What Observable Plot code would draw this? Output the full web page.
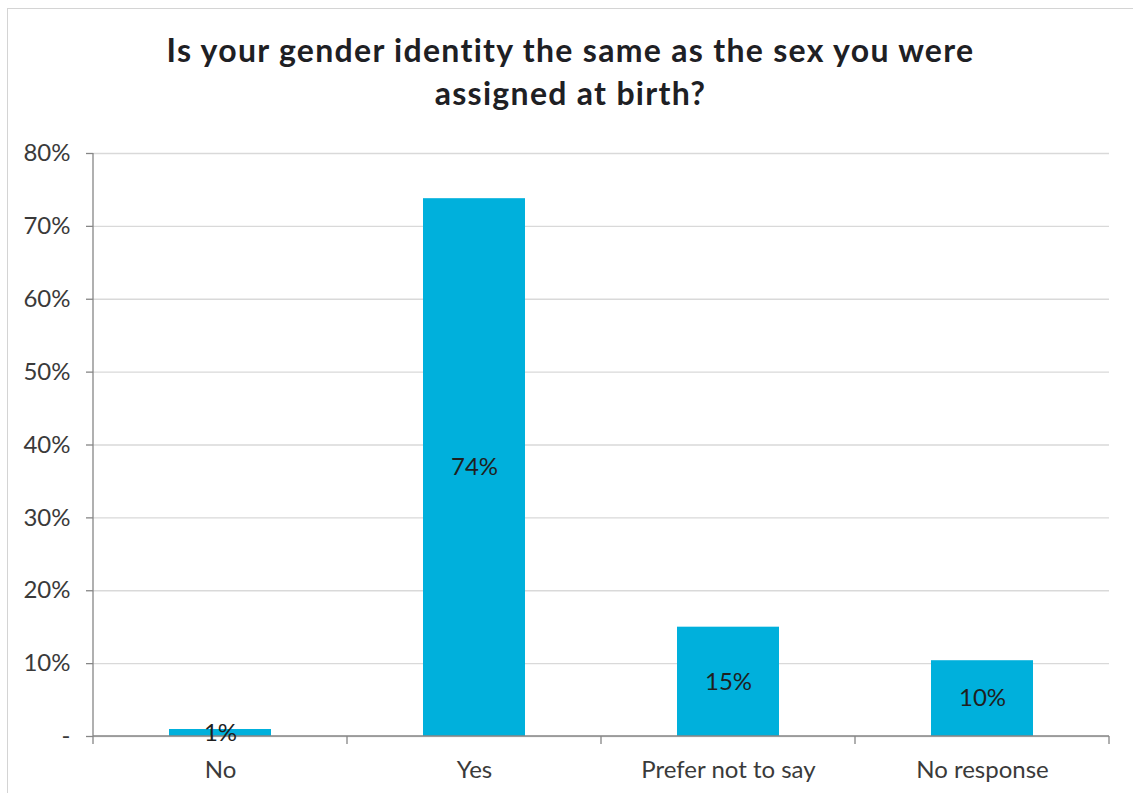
<!DOCTYPE html>
<html>
<head>
<meta charset="utf-8">
<script src="https://cdn.jsdelivr.net/npm/d3@7"></script>
<script src="https://cdn.jsdelivr.net/npm/@observablehq/plot@0.6"></script>
<style>
  html, body { margin: 0; padding: 0; background: #fff; }
  #wrap { position: relative; width: 1133px; height: 793px; overflow: hidden; font-family: Lato, "Open Sans", sans-serif; }
  #border { position: absolute; left: 7px; top: 8px; width: 1200px; height: 900px; border-left: 1px solid #d4d4d4; border-top: 1px solid #d4d4d4; box-sizing: border-box; }
  #title { position: absolute; left: 7px; top: 28px; width: 1127px; text-align: center; font-weight: 700; font-size: 32px; letter-spacing: 1.3px; line-height: 43px; color: #1e2024; }
  #chart { position: absolute; left: 0; top: 125px; }
</style>
</head>
<body>
<div id="wrap">
  <div id="border"></div>
  <div id="title">Is your gender identity the same as the sex you were<br>assigned at birth?</div>
  <div id="chart"></div>
</div>
<script>
const categories = ["No", "Yes", "Prefer not to say", "No response"];
const values = [0.96, 73.8, 15.0, 10.4];
const valueLabels = ["1%", "74%", "15%", "10%"];
const yTicks = [0, 10, 20, 30, 40, 50, 60, 70, 80];
const yTickLabels = ["-", "10%", "20%", "30%", "40%", "50%", "60%", "70%", "80%"];

const data = categories.map((c, i) => ({category: c, value: values[i], label: valueLabels[i]}));

const barColor = "rgb(0,176,220)";
const axisColor = "#868686";

// axis line on the left and category boundary ticks on the baseline
function axisDecor(index, scales, channels, dimensions) {
  const {width, marginLeft, marginRight} = dimensions;
  const x0 = marginLeft, x1 = width - marginRight;
  const yb = scales.y(0), yt = scales.y(yTicks[yTicks.length - 1]);
  const g = d3.create("svg:g").attr("stroke", axisColor).attr("stroke-width", 1.3).attr("fill", "none");
  g.append("line").attr("x1", x0).attr("x2", x0).attr("y1", yt).attr("y2", yb);
  g.append("line").attr("x1", x0).attr("x2", x1).attr("y1", yb).attr("y2", yb);
  const n = categories.length;
  for (let i = 0; i <= n; i++) {
    const x = x0 + (x1 - x0) * i / n;
    g.append("line").attr("x1", x).attr("x2", x).attr("y1", yb).attr("y2", yb + 8);
  }
  return g.node();
}

const plot = Plot.plot({
  width: 1133,
  height: 668,
  marginLeft: 93,
  marginRight: 24,
  marginTop: 28,
  marginBottom: 57,
  style: {fontFamily: "Lato, 'Open Sans', sans-serif", fontSize: "24px", color: "#3a3a3a", background: "transparent"},
  x: {domain: categories, paddingInner: 0.6, paddingOuter: 0.3, label: null},
  y: {domain: [0, 80], label: null},
  marks: [
    Plot.gridY({ticks: yTicks, stroke: "#d9d9d9", strokeOpacity: 1, strokeWidth: 1.3}),
    Plot.barY(data, {x: "category", y: "value", fill: barColor}),
    axisDecor,
    Plot.axisY({ticks: yTicks, tickFormat: d => yTickLabels[yTicks.indexOf(d)], tickSize: 7, tickPadding: 16, stroke: axisColor, strokeWidth: 1.3, fill: "#3a3a3a", label: null}),
    Plot.axisX({tickSize: 0, tickPadding: 24, fill: "#3a3a3a", label: null}),
    Plot.text(data, {x: "category", y: d => d.value / 2, text: "label", fill: "#1f1f1f", fontSize: 24})
  ]
});
document.getElementById("chart").appendChild(plot);
</script>
</body>
</html>
